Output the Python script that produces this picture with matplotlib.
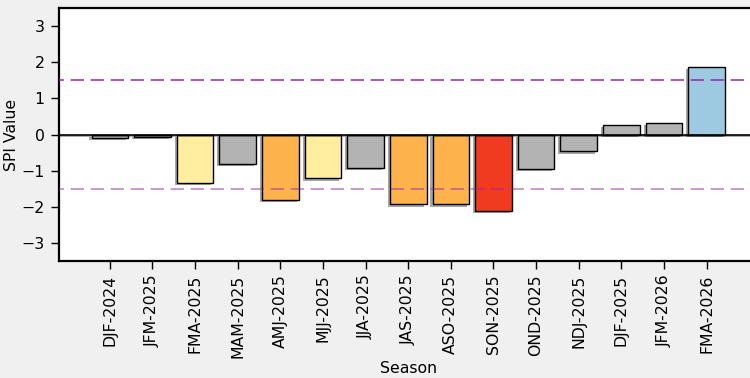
import matplotlib
matplotlib.use("Agg")
import matplotlib.pyplot as plt
import matplotlib.patheffects as pe

# SPI per season
seasons = ["DJF-2024", "JFM-2025", "FMA-2025", "MAM-2025", "AMJ-2025", "MJJ-2025",
           "JJA-2025", "JAS-2025", "ASO-2025", "SON-2025", "OND-2025", "NDJ-2025",
           "DJF-2025", "JFM-2026", "FMA-2026"]
spi = [-0.10, -0.07, -1.34, -0.81, -1.82, -1.22, -0.93, -1.94, -1.94, -2.11,
       -0.96, -0.47, 0.26, 0.33, 1.88]
thresholds = [1.5, -1.5]


def spi_color(v):
    # category colours
    if v >= 1.5:
        return "#9ecae1"
    if v <= -2.0:
        return "#f03b20"
    if v <= -1.5:
        return "#feb24c"
    if v <= -1.0:
        return "#ffeda0"
    return "#b3b3b3"


colors = [spi_color(v) for v in spi]

fig = plt.figure(figsize=(7.5, 3.78), dpi=100, facecolor="#f0f0f0")
ax = fig.add_axes([0.0783, 0.3103, 0.932, 0.6677])
ax.set_facecolor("white")

x = list(range(len(seasons)))
bars = ax.bar(x, spi, width=0.86, color=colors, edgecolor="black", linewidth=1.0, zorder=2)
for b in bars:
    b.set_path_effects([pe.SimplePatchShadow(offset=(-1.5, -1.5), shadow_rgbFace="gray", alpha=0.7),
                        pe.Normal()])

ax.axhline(0, color="black", linewidth=1.2, zorder=3,
           path_effects=[pe.SimpleLineShadow(offset=(0, -1), alpha=0.4), pe.Normal()])
ax.axhline(thresholds[0], color="#9b1fa8", linestyle=(5, (8, 4)), linewidth=1.2, alpha=0.9, zorder=4)
ax.axhline(thresholds[1], color="#9b1fa8", linestyle=(5, (8, 4)), linewidth=1.2, alpha=0.55, zorder=4)

ax.set_xlim(-1.2, 15.2)
ax.set_ylim(-3.5, 3.5)
ax.set_yticks([-3, -2, -1, 0, 1, 2, 3])
ax.set_xticks(x)
ax.set_xticklabels(seasons, rotation=90)
ax.tick_params(axis="both", labelsize=11.3, length=6, width=1, pad=4)

for s in ax.spines.values():
    s.set_linewidth(1.6)
ax.spines["right"].set_visible(False)

ax.set_xlabel("Season", fontsize=11.3, labelpad=2)
ax.set_ylabel("SPI Value", fontsize=11.3, labelpad=1.5)

fig.savefig("out.png", dpi=100, facecolor=fig.get_facecolor())
